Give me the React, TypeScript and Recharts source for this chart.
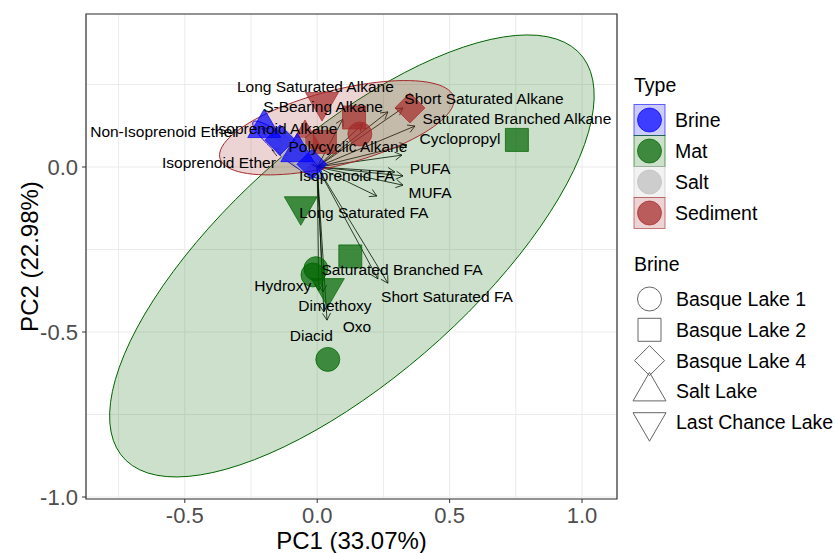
import React from "react";
import {
  ScatterChart,
  Scatter,
  XAxis,
  YAxis,
  CartesianGrid,
  ReferenceLine,
  ReferenceArea,
  Label,
} from "recharts";

const FONT = "'Liberation Sans', Arial, Helvetica, sans-serif";

// axis ranges and ticks (PC1 / PC2)
const xDomain = [-0.873, 1.132];
const yDomain = [-1.006, 0.4636];
const xTicks = [-0.5, 0, 0.5, 1.0];
const yTicks = [-1.0, -0.5, 0];
const xGridTicks = [-0.75, -0.5, -0.25, 0, 0.25, 0.5, 0.75, 1.0];
const yGridTicks = [-1.0, -0.75, -0.5, -0.25, 0, 0.25];

const types = ["Brine", "Mat", "Salt", "Sediment"];
const lakes = ["Basque Lake 1", "Basque Lake 2", "Basque Lake 4", "Salt Lake", "Last Chance Lake"];

const typeColors: Record<string, string> = {
  Brine: "#0000FF",
  Mat: "#006400",
  Salt: "#BEBEBE",
  Sediment: "#A52A2A",
};

// sample scores
const brineSamples = [
  { x: -0.2, y: 0.118, lake: "Salt Lake" },
  { x: -0.14, y: 0.082, lake: "Basque Lake 4" },
  { x: -0.075, y: 0.045, lake: "Salt Lake" },
  { x: -0.02, y: 0.008, lake: "Basque Lake 4" },
];

const matSamples = [
  { x: 0.754, y: 0.082, lake: "Basque Lake 2" },
  { x: 0.125, y: -0.271, lake: "Basque Lake 2" },
  { x: -0.005, y: -0.308, lake: "Basque Lake 1" },
  { x: -0.016, y: -0.327, lake: "Basque Lake 1" },
  { x: 0.04, y: -0.583, lake: "Basque Lake 1" },
  { x: -0.062, y: -0.119, lake: "Last Chance Lake" },
  { x: 0.04, y: -0.367, lake: "Last Chance Lake" },
];

const saltSamples = [
  { x: -0.13, y: 0.075, lake: "Basque Lake 1" },
  { x: -0.09, y: 0.052, lake: "Basque Lake 2" },
  { x: -0.055, y: 0.032, lake: "Basque Lake 4" },
];

const sedimentSamples = [
  { x: 0.018, y: 0.197, lake: "Last Chance Lake" },
  { x: 0.139, y: 0.15, lake: "Basque Lake 2" },
  { x: 0.161, y: 0.1, lake: "Basque Lake 1" },
  { x: 0.35, y: 0.179, lake: "Basque Lake 4" },
  { x: 0.029, y: 0.076, lake: "Basque Lake 2" },
  { x: -0.046, y: 0.085, lake: "Salt Lake" },
];

// 95% ellipses: centre, semi axes, rotation (degrees, data units)
const ellipses = [
  { type: "Brine", cx: -0.111, cy: 0.052, a: 0.156, b: 0.03, angle: -32.3 },
  { type: "Mat", cx: 0.131, cy: -0.2695, a: 1.062, b: 0.397, angle: 33.2 },
  { type: "Salt", cx: -0.1, cy: 0.052, a: 0.092, b: 0.018, angle: -29.8 },
  { type: "Sediment", cx: 0.074, cy: 0.119, a: 0.451, b: 0.114, angle: 11.4 },
];

// loading vectors (arrow tips)
const loadingNames = [
  "Long Saturated Alkane", "S-Bearing Alkane", "Short Saturated Alkane", "Saturated Branched Alkane",
  "Isoprenoid Alkane", "Cyclopropyl", "Polycyclic Alkane", "Non-Isoprenoid Ether", "Isoprenoid Ether",
  "Isoprenoid FA", "PUFA", "MUFA", "Long Saturated FA", "Saturated Branched FA", "Short Saturated FA",
  "Hydroxy", "Dimethoxy", "Oxo", "Diacid",
];
const loadingX = [0.267, 0.171, 0.324, 0.369, 0.097, 0.339, 0.32, -0.209, -0.171, 0.293, 0.324, 0.324, 0.225, 0.229, 0.267, 0.006, 0.022, 0.037, 0.025];
const loadingY = [0.167, 0.13, 0.179, 0.124, 0.145, 0.067, 0.036, 0.118, 0.052, -0.015, -0.027, -0.055, -0.088, -0.339, -0.352, -0.374, -0.379, -0.464, -0.439];

// where the loading names are written
const labelX = [-0.007, 0.022, 0.63, 0.754, -0.156, 0.539, 0.116, -0.579, -0.371, 0.112, 0.426, 0.426, 0.176, 0.32, 0.49, -0.13, 0.067, 0.15, -0.022];
const labelY = [0.245, 0.182, 0.209, 0.148, 0.118, 0.085, 0.061, 0.107, 0.015, -0.026, -0.006, -0.078, -0.139, -0.312, -0.392, -0.359, -0.42, -0.484, -0.512];

const loadings = loadingNames.map((name, i) => ({ name, x: loadingX[i], y: loadingY[i] }));
const loadingLabels = loadingNames.map((name, i) => ({ name, x: labelX[i], y: labelY[i] }));

function ellipseOutline(e: (typeof ellipses)[number]) {
  const pts = [];
  const r = (e.angle * Math.PI) / 180;
  for (let i = 0; i <= 96; i++) {
    const t = (2 * Math.PI * i) / 96;
    const u = e.a * Math.cos(t);
    const v = e.b * Math.sin(t);
    pts.push({ x: e.cx + u * Math.cos(r) - v * Math.sin(r), y: e.cy + u * Math.sin(r) + v * Math.cos(r) });
  }
  return pts;
}

function markerPath(lake: string, cx: number, cy: number, k = 1) {
  if (lake === "Basque Lake 2") {
    const s = 11.5 * k;
    return `M${cx - s},${cy - s}h${2 * s}v${2 * s}h${-2 * s}Z`;
  }
  if (lake === "Basque Lake 4") {
    const d = 15 * k;
    return `M${cx},${cy - d}L${cx + d},${cy}L${cx},${cy + d}L${cx - d},${cy}Z`;
  }
  if (lake === "Salt Lake") {
    const w = 16.5 * k, h = 28.5 * k;
    return `M${cx},${cy - (2 * h) / 3}L${cx + w},${cy + h / 3}L${cx - w},${cy + h / 3}Z`;
  }
  if (lake === "Last Chance Lake") {
    const w = 16.5 * k, h = 28.5 * k;
    return `M${cx},${cy + (2 * h) / 3}L${cx + w},${cy - h / 3}L${cx - w},${cy - h / 3}Z`;
  }
  const rr = 12 * k;
  return `M${cx - rr},${cy}a${rr},${rr} 0 1,0 ${2 * rr},0a${rr},${rr} 0 1,0 ${-2 * rr},0Z`;
}

const sampleShape = (color: string) => (props: any) => {
  const { cx, cy, payload } = props;
  if (cx == null || cy == null) return <g />;
  return (
    <path
      d={markerPath(payload.lake, cx, cy)}
      fill={color}
      fillOpacity={0.7}
      stroke={color}
      strokeOpacity={0.7}
      strokeWidth={1}
    />
  );
};

const blank = () => <g />;

const ArrowShape = (p: any) => {
  const { x1, y1, x2, y2 } = p;
  if ([x1, y1, x2, y2].some((v) => v == null || isNaN(v))) return <g />;
  const ang = Math.atan2(y2 - y1, x2 - x1);
  const L = 8;
  const A = Math.PI / 6;
  const ax = x2 - L * Math.cos(ang - A);
  const ay = y2 - L * Math.sin(ang - A);
  const bx = x2 - L * Math.cos(ang + A);
  const by = y2 - L * Math.sin(ang + A);
  return (
    <g>
      <line x1={x1} y1={y1} x2={x2} y2={y2} stroke="#000" strokeWidth={0.8} />
      <polyline points={`${ax},${ay} ${x2},${y2} ${bx},${by}`} fill="none" stroke="#000" strokeWidth={0.8} />
    </g>
  );
};

const labelShape = (props: any) => {
  const { cx, cy, payload } = props;
  if (cx == null || cy == null) return <g />;
  return (
    <text x={cx} y={cy} textAnchor="middle" dominantBaseline="central" fontSize={15.5} fontFamily={FONT} fill="#000">
      {payload.name}
    </text>
  );
};

const XTitle = (props: any) => {
  const vb = props.viewBox || { x: 86, y: 499, width: 531, height: 54 };
  return (
    <text x={vb.x + vb.width / 2} y={vb.y + vb.height - 4} textAnchor="middle" fontSize={24} fontFamily={FONT} fill="#000">
      PC1 (33.07%)
    </text>
  );
};

const YTitle = (props: any) => {
  const vb = props.viewBox || { x: 0, y: 14, width: 86, height: 485 };
  const x = vb.x + 38;
  const y = vb.y + vb.height / 2;
  return (
    <text x={x} y={y} transform={`rotate(-90 ${x} ${y})`} textAnchor="middle" fontSize={24} fontFamily={FONT} fill="#000">
      PC2 (22.98%)
    </text>
  );
};

const fmt = (v: number) => v.toFixed(1);

const sampleGroups = [
  { type: "Sediment", data: sedimentSamples },
  { type: "Salt", data: saltSamples },
  { type: "Brine", data: brineSamples },
  { type: "Mat", data: matSamples },
];

function LegendPanel() {
  const rowH = 31;
  return (
    <svg width={216} height={553} style={{ position: "absolute", left: 620, top: 0 }}>
      <text x={14} y={92} fontSize={19.5} fontFamily={FONT} fill="#000">Type</text>
      {types.map((t, i) => {
        const cy = 120 + i * rowH;
        const c = typeColors[t];
        return (
          <g key={t}>
            <rect x={14} y={cy - 15.5} width={31} height={31} fill={c} fillOpacity={0.2} stroke={c} strokeOpacity={0.6} strokeWidth={1} />
            <circle cx={29.5} cy={cy} r={12} fill={c} fillOpacity={0.7} stroke={c} strokeOpacity={0.7} />
            <text x={55} y={cy} dominantBaseline="central" fontSize={19.5} fontFamily={FONT} fill="#000">{t}</text>
          </g>
        );
      })}
      <text x={14} y={271} fontSize={19.5} fontFamily={FONT} fill="#000">Brine</text>
      {lakes.map((l, i) => {
        const cy = 299 + i * 30.8;
        return (
          <g key={l}>
            <path d={markerPath(l, 29.5, cy, 1)} fill="none" stroke="#666" strokeWidth={1} />
            <text x={56} y={cy} dominantBaseline="central" fontSize={19.5} fontFamily={FONT} fill="#000">{l}</text>
          </g>
        );
      })}
    </svg>
  );
}

export default function App() {
  return (
    <div style={{ position: "absolute", left: 0, top: 0, width: 836, height: 553, background: "#fff" }}>
      <ScatterChart width={836} height={553} margin={{ top: 14, right: 219, bottom: 0, left: 0 }}>
        <CartesianGrid xAxisId="grid" yAxisId="grid" stroke="#EBEBEB" strokeWidth={1} />
        <XAxis
          type="number"
          dataKey="x"
          domain={xDomain}
          ticks={xTicks}
          allowDataOverflow
          height={54}
          tickSize={4}
          tickMargin={4}
          axisLine={false}
          tickLine={{ stroke: "#333" }}
          tick={{ fill: "#4D4D4D", fontSize: 22, fontFamily: FONT }}
          tickFormatter={fmt}
        >
          <Label content={XTitle} />
        </XAxis>
        <XAxis xAxisId="grid" type="number" dataKey="x" domain={xDomain} ticks={xGridTicks} allowDataOverflow hide />
        <YAxis
          type="number"
          dataKey="y"
          domain={yDomain}
          ticks={yTicks}
          allowDataOverflow
          width={86}
          tickSize={4}
          tickMargin={4}
          axisLine={false}
          tickLine={{ stroke: "#333" }}
          tick={{ fill: "#4D4D4D", fontSize: 22, fontFamily: FONT }}
          tickFormatter={fmt}
        >
          <Label content={YTitle} />
        </YAxis>
        <YAxis yAxisId="grid" type="number" dataKey="y" domain={yDomain} ticks={yGridTicks} allowDataOverflow hide />

        {ellipses.map((e) => (
          <Scatter
            key={"ell-" + e.type}
            data={ellipseOutline(e)}
            shape={blank}
            line={{ fill: typeColors[e.type], fillOpacity: 0.2, stroke: typeColors[e.type], strokeWidth: 1 }}
            lineType="joint"
            isAnimationActive={false}
          />
        ))}

        {sampleGroups.map((g) => (
          <Scatter
            key={"pts-" + g.type}
            data={g.data}
            shape={sampleShape(typeColors[g.type])}
            isAnimationActive={false}
          />
        ))}

        {loadings.map((l) => (
          <ReferenceLine
            key={"arr-" + l.name}
            segment={[{ x: 0, y: 0 }, { x: l.x, y: l.y }]}
            stroke="#000"
            ifOverflow="visible"
            shape={ArrowShape}
          />
        ))}

        <Scatter data={loadingLabels} shape={labelShape} isAnimationActive={false} />

        <ReferenceArea
          x1={xDomain[0]}
          x2={xDomain[1]}
          y1={yDomain[0]}
          y2={yDomain[1]}
          fill="none"
          fillOpacity={0}
          stroke="#333"
          strokeWidth={1.2}
          ifOverflow="visible"
        />
      </ScatterChart>
      <LegendPanel />
    </div>
  );
}
